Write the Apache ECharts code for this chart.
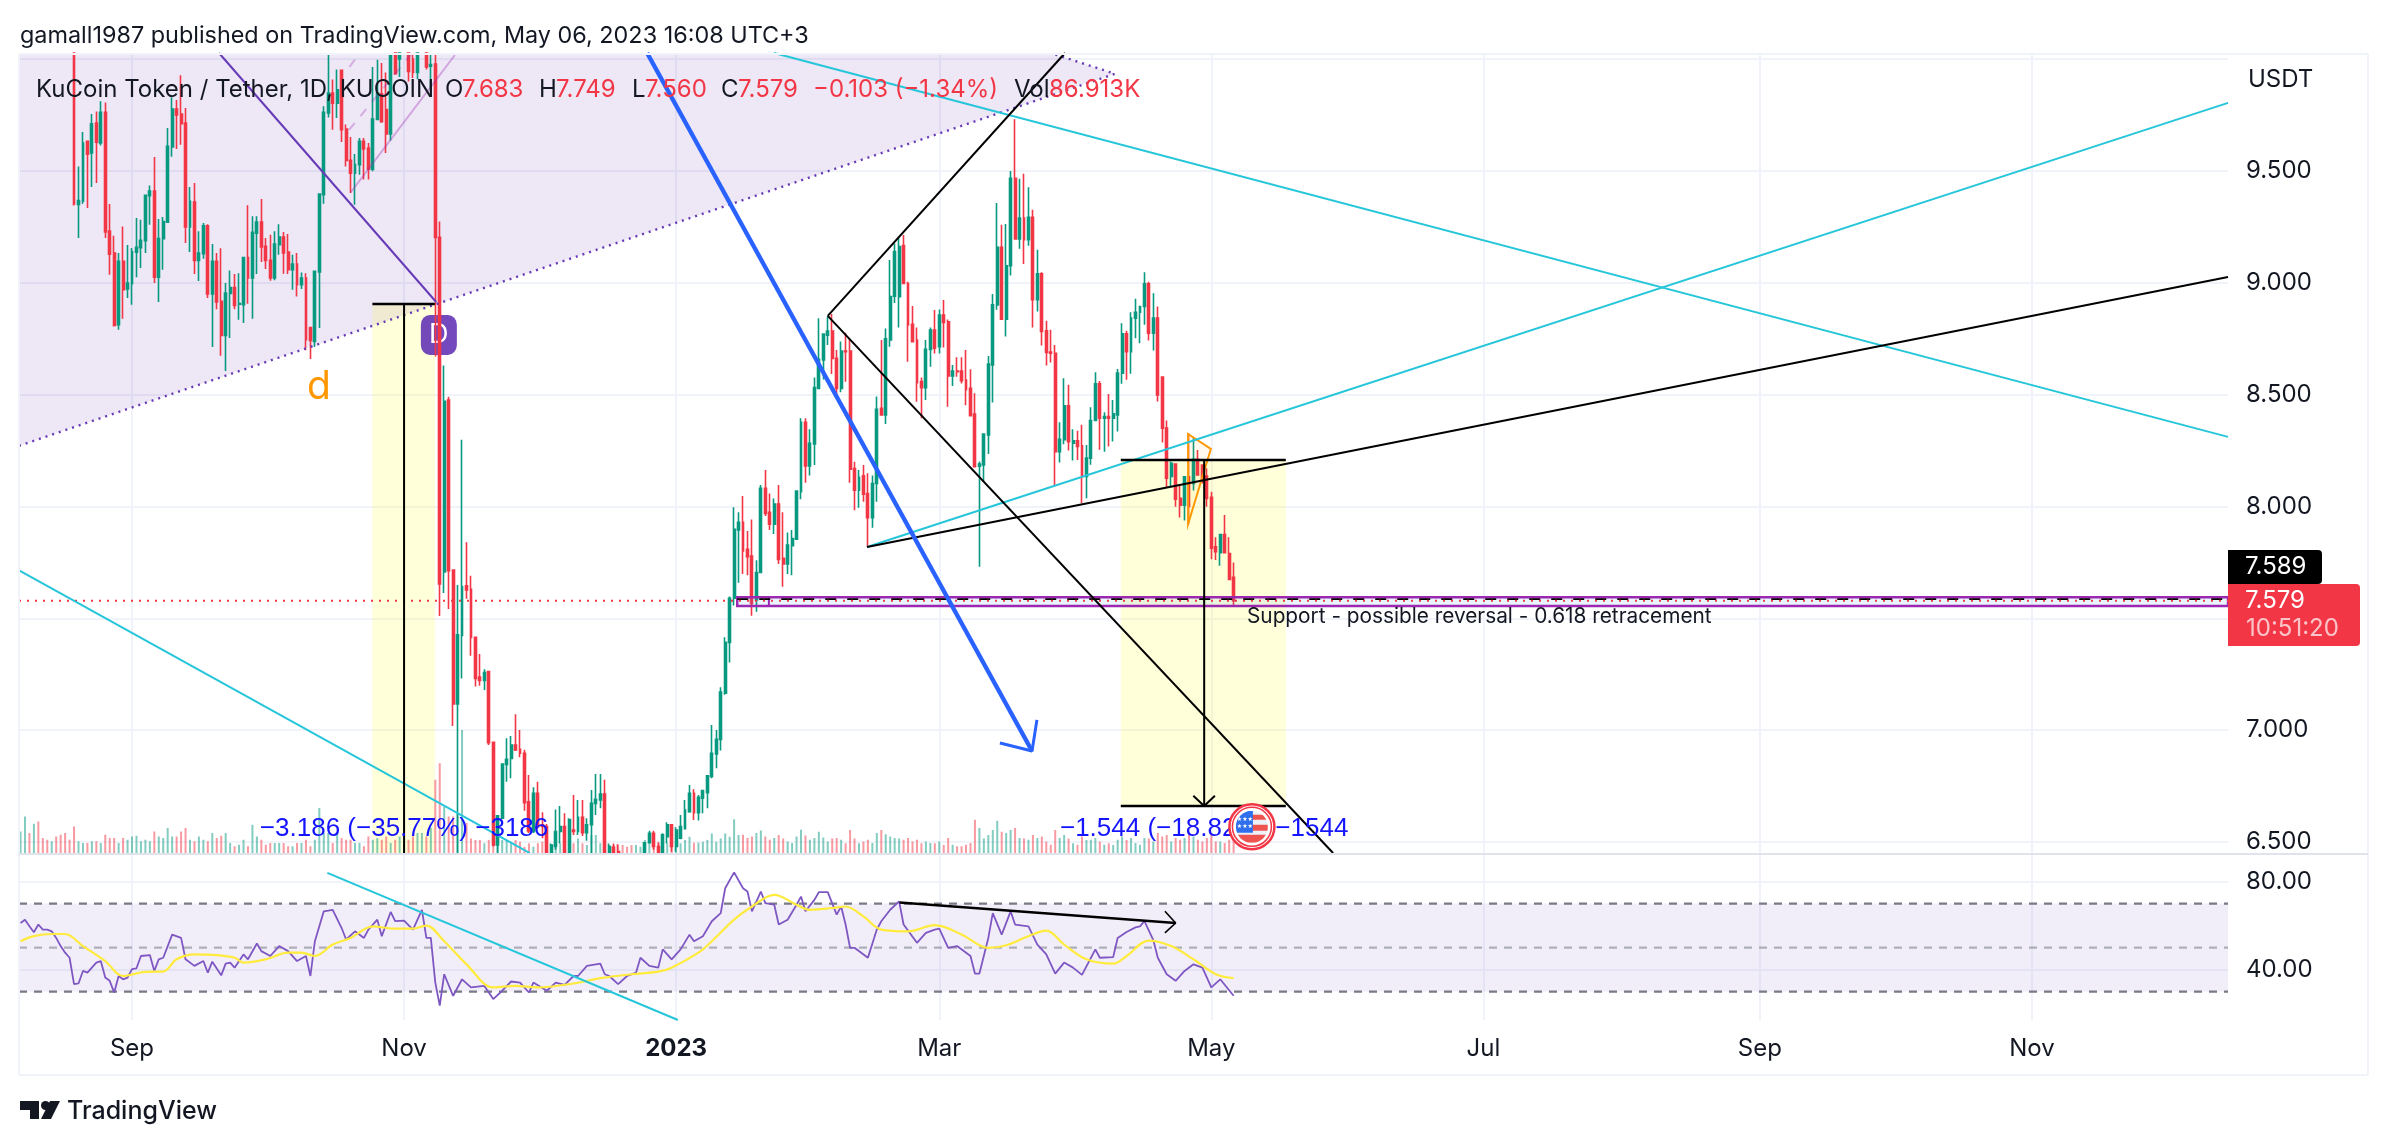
<!DOCTYPE html>
<html>
<head>
<meta charset="utf-8">
<title>KuCoin Token / Tether</title>
<script src="https://cdn.jsdelivr.net/npm/echarts@6/dist/echarts.min.js"></script>
<style>
html,body{margin:0;padding:0;background:#fff}
#main{width:2388px;height:1146px}
</style>
</head>
<body>
<div id="main"></div>
<script>
// day number 0 = 2022-08-07, candles above the pane before day 12 are not readable
const firstCandleDay = 12;
const opens = [
10.2,9.35,9.364,9.632,9.58,9.714,9.625,9.762,9.231,9.133,
8.812,9.096,8.972,8.996,9.137,9.157,9.188,9.389,9.41,9.025,
9.197,9.271,9.607,9.777,9.754,9.714,9.249,9.361,9.1,9.13,
9.255,8.95,9.096,8.917,8.765,8.952,8.979,8.904,8.902,9.113,
9.021,9.222,9.271,9.163,9.1,9.021,9.17,9.204,9.137,9.058,
9.084,8.991,9.021,8.8,8.738,9.048,9.394,9.759,9.848,9.803,
9.95,9.687,9.547,9.49,9.528,9.632,9.602,9.508,9.73,9.845,
9.774,9.665,10.07,10.0,10.15,10.1,10.0,9.94,10.1,10.1,
9.968,9.978,9.203,7.707,8.476,7.716,7.117,7.423,7.645,7.63,
7.415,7.237,7.222,7.262,6.946,6.487,6.606,6.847,6.874,6.934,
6.915,6.897,6.68,6.547,6.718,6.577,6.569,6.453,6.48,6.547,
6.569,6.453,6.554,6.547,6.611,6.542,6.577,6.673,6.688,6.715,
6.453,6.477,6.457,6.45,6.43,6.42,6.41,6.42,6.453,6.497,
6.539,6.48,6.453,6.524,6.577,6.48,6.517,6.56,6.636,6.718,
6.631,6.696,6.721,6.793,6.894,6.959,7.165,7.392,7.59,7.895,
7.929,7.808,7.778,7.582,7.705,8.081,7.974,7.921,8.011,7.768,
7.743,7.825,7.854,8.066,8.376,8.181,8.279,8.528,8.655,8.766,
8.784,8.662,8.528,8.695,8.695,8.17,8.073,8.137,8.058,7.95,
8.103,8.439,8.409,8.744,8.94,8.938,9.166,8.997,8.814,8.744,
8.558,8.531,8.702,8.789,8.714,8.856,8.826,8.583,8.605,8.605,
8.565,8.528,8.413,8.18,8.186,8.32,8.633,8.901,9.159,8.837,
9.076,9.467,9.196,9.289,9.192,9.293,8.924,9.04,8.785,8.69,
8.685,8.245,8.298,8.45,8.283,8.293,8.271,8.134,8.216,8.384,
8.548,8.394,8.402,8.394,8.409,8.596,8.772,8.692,8.842,8.868,
8.894,8.995,8.774,8.842,8.578,8.35,8.134,8.19,8.036,8.006,
8.133,8.103,8.211,8.185,8.136,8.041,7.82,7.793,7.875,7.79,
7.683];
const closes = [
9.352,9.368,9.625,9.575,9.711,9.628,9.762,9.227,9.128,8.809,
9.096,8.969,8.999,9.14,9.158,9.19,9.391,9.41,9.025,9.198,
9.274,9.61,9.777,9.75,9.711,9.249,9.364,9.1,9.133,9.255,
8.95,9.096,8.914,8.765,8.954,8.979,8.899,8.907,9.113,9.021,
9.225,9.271,9.16,9.1,9.021,9.173,9.204,9.133,9.058,9.084,
8.991,9.021,8.745,8.742,9.051,9.397,9.762,9.848,9.803,9.863,
9.684,9.547,9.49,9.528,9.632,9.598,9.508,9.732,9.848,9.72,
9.665,10.02,9.935,10.1,10.2,9.945,9.94,10.05,10.2,9.965,
9.975,9.203,7.654,8.47,7.713,7.117,7.426,7.642,7.627,7.414,
7.231,7.222,7.258,6.944,6.487,6.617,6.849,6.87,6.934,6.912,
6.897,6.676,6.55,6.718,6.569,6.57,6.453,6.487,6.547,6.569,
6.453,6.6,6.547,6.611,6.542,6.577,6.673,6.691,6.715,6.453,
6.48,6.453,6.452,6.43,6.42,6.41,6.42,6.44,6.497,6.539,
6.48,6.453,6.532,6.577,6.48,6.554,6.569,6.643,6.718,6.631,
6.7,6.73,6.796,6.897,6.959,7.17,7.393,7.59,7.898,7.929,
7.801,7.775,7.567,7.705,8.081,7.969,7.921,8.011,7.763,7.743,
7.828,7.857,8.069,8.376,8.181,8.282,8.532,8.658,8.771,8.784,
8.662,8.528,8.695,8.692,8.167,8.073,8.13,8.055,7.95,8.103,
8.434,8.409,8.749,8.938,9.14,9.162,8.997,8.811,8.737,8.553,
8.531,8.702,8.789,8.707,8.856,8.822,8.583,8.605,8.602,8.562,
8.523,8.406,8.178,8.19,8.324,8.637,8.901,9.159,8.837,9.076,
9.467,9.196,9.289,9.192,9.293,8.924,9.04,8.782,8.688,8.685,
8.245,8.3,8.45,8.29,8.293,8.268,8.134,8.216,8.384,8.548,
8.394,8.402,8.394,8.414,8.596,8.772,8.692,8.842,8.868,8.894,
8.995,8.774,8.842,8.499,8.35,8.126,8.193,8.033,8.006,8.133,
8.0,8.211,8.141,8.118,8.036,7.813,7.798,7.875,7.793,7.674,
7.579];
const lows = [
9.345,9.2,9.353,9.334,9.428,9.446,9.613,9.2,9.036,8.805,
8.79,8.839,8.932,8.902,9.025,9.066,9.133,9.259,8.999,8.914,
9.058,9.267,9.563,9.598,9.617,9.178,9.137,9.039,9.008,9.107,
8.932,8.713,8.882,8.674,8.605,8.753,8.882,8.835,8.82,8.906,
8.839,9.039,9.093,9.061,9.009,9.011,9.125,9.04,9.039,8.969,
8.939,8.972,8.698,8.659,8.713,8.798,9.353,9.739,9.684,9.736,
9.629,9.52,9.401,9.349,9.483,9.461,9.461,9.498,9.73,9.715,
9.58,9.636,9.93,9.92,10.1,9.9,9.915,9.91,10.05,9.953,
9.866,8.67,7.51,7.613,7.542,7.019,6.44,7.231,7.587,7.333,
7.195,7.199,7.18,6.934,6.48,6.44,6.606,6.77,6.785,6.907,
6.879,6.64,6.54,6.54,6.56,6.517,6.44,6.44,6.465,6.494,
6.44,6.44,6.532,6.532,6.527,6.506,6.44,6.621,6.651,6.44,
6.44,6.44,6.44,6.41,6.40,6.39,6.39,6.40,6.44,6.497,
6.465,6.44,6.44,6.494,6.457,6.457,6.512,6.558,6.631,6.599,
6.596,6.629,6.651,6.785,6.83,6.909,7.158,7.302,7.557,7.659,
7.698,7.693,7.512,7.529,7.704,7.957,7.895,7.877,7.743,7.641,
7.698,7.693,7.853,8.032,8.106,8.138,8.185,8.525,8.568,8.722,
8.592,8.498,8.51,8.558,8.106,7.983,7.994,8.021,7.82,7.905,
8.021,8.408,8.369,8.714,8.91,8.8,8.996,8.647,8.737,8.468,
8.394,8.476,8.625,8.684,8.684,8.711,8.446,8.538,8.58,8.55,
8.453,8.405,8.177,7.73,8.111,8.235,8.465,8.879,8.834,8.76,
9.032,9.195,9.152,9.084,9.165,8.8,8.871,8.719,8.63,8.643,
8.096,8.196,8.278,8.25,8.205,8.208,8.014,8.037,8.186,8.383,
8.253,8.245,8.268,8.29,8.335,8.548,8.566,8.593,8.752,8.73,
8.812,8.742,8.697,8.469,8.286,8.082,8.086,7.999,7.951,7.937,
7.92,8.071,8.14,8.103,7.999,7.764,7.761,7.735,7.792,7.671,
7.56];
const highs = [
10.3,9.52,9.674,9.632,9.754,9.766,9.811,9.806,9.352,9.21,
9.133,9.252,9.169,9.155,9.289,9.282,9.391,9.435,9.562,9.285,
9.294,9.692,9.829,9.817,9.927,9.781,9.428,9.446,9.23,9.267,
9.262,9.173,9.133,9.154,8.999,9.055,9.039,9.043,9.113,9.346,
9.297,9.297,9.374,9.2,9.215,9.23,9.262,9.227,9.218,9.125,
9.133,9.046,9.043,8.8,9.051,9.397,9.789,10.02,9.908,9.953,
9.95,9.707,9.651,9.575,9.647,9.647,9.625,9.964,9.997,9.982,
9.94,10.1,10.15,10.2,10.25,10.2,10.1,10.15,10.3,10.2,
10.1,10.04,9.274,8.63,8.49,7.716,7.649,8.298,7.84,7.69,
7.415,7.341,7.272,7.266,6.946,6.621,6.852,6.964,6.974,7.071,
7.001,6.912,6.8,6.745,6.77,6.633,6.581,6.494,6.646,6.661,
6.629,6.606,6.71,6.688,6.688,6.606,6.733,6.804,6.804,6.778,
6.494,6.494,6.49,6.449,6.44,6.44,6.44,6.449,6.497,6.55,
6.55,6.497,6.539,6.588,6.577,6.566,6.621,6.688,6.755,6.736,
6.71,6.733,6.796,7.023,7.001,7.192,7.415,7.597,7.997,7.974,
8.047,7.89,7.942,7.76,8.096,8.163,8.058,8.036,8.096,7.974,
7.884,7.895,8.069,8.394,8.394,8.345,8.577,8.841,8.774,8.848,
8.86,8.699,8.737,8.777,8.751,8.2,8.163,8.185,8.148,8.138,
8.491,8.744,8.796,9.102,9.175,9.204,9.214,9.005,8.896,8.8,
8.576,8.744,8.8,8.878,8.881,8.923,8.836,8.632,8.667,8.667,
8.699,8.613,8.506,8.201,8.324,8.673,8.95,9.356,9.259,9.263,
9.5,9.731,9.465,9.487,9.427,9.326,9.147,9.047,8.83,8.79,
8.722,8.377,8.573,8.544,8.345,8.338,8.365,8.275,8.444,8.6,
8.561,8.421,8.503,8.476,8.614,8.819,8.786,8.868,8.928,8.894,
9.047,9.005,8.953,8.894,8.578,8.384,8.201,8.193,8.096,8.136,
8.327,8.309,8.252,8.185,8.171,8.066,7.862,7.875,7.962,7.862,
7.749];
// volume in K, from day 0
const volumes = [
86,146,80,117,126,60,53,47,66,73,80,53,106,47,40,40,47,47,40,73,
60,60,40,60,53,66,69,47,53,47,86,66,60,100,66,66,86,100,53,47,
66,53,47,80,60,69,80,40,27,33,53,27,113,66,53,33,40,40,40,40,
27,27,40,40,53,27,53,180,80,80,40,80,60,53,53,40,40,27,66,53,
60,53,66,40,53,66,40,53,66,80,80,66,100,293,359,186,146,146,160,492,
120,58,52,52,39,52,65,52,52,52,45,52,45,25,39,25,39,45,39,25,
32,39,39,25,39,58,39,32,72,72,39,25,32,32,32,32,25,32,32,25,
52,45,39,45,19,39,25,25,39,52,65,41,41,45,52,78,45,58,78,65,
135,72,73,60,66,80,90,66,53,60,72,58,46,40,66,93,70,53,60,85,
62,46,58,60,53,39,92,58,39,46,53,40,80,92,75,66,60,58,53,60,
46,53,39,46,40,39,46,32,60,33,27,27,33,40,133,100,58,72,92,129,
85,80,92,100,60,58,53,72,60,66,46,33,92,60,72,58,39,33,66,52,
53,60,46,33,39,32,53,66,52,60,40,33,60,58,46,80,66,72,46,60,
53,60,85,66,53,46,60,72,46,46,40,53,87];
// direction of the volume bars whose candle sits above the pane
const earlyVolumeUp = [1,1,0,1,0,0,0,1,0,0,0,0];

const rsiDays = [0,1,2,3,4,5,6,7,8,9,10,11,12,13,14,15,16,17,18,19,20,21,22,23,24,25,26,27,29,30,31,32,34,36,37,39,41,42,43,45,46,47,48,50,51,53,54,56,58,60,62,64,65,66,68,69,70,72,73,75,77,78,80,81,83,84,86,88,90,91,92,93,94,95,97,99,101,104,106,108,110,112,114,115,118,120,122,124,125,127,130,131,132,134,136,138,139,141,143,144,146,148,150,151,153,155,157,158,160,162,163,164,166,167,169,170,172,174,175,176,178,179,181,183,184,185,186,187,190,192,193,195,197,198,201,203,205,206,208,210,213,214,215,217,218,220,222,223,226,228,230,232,234,236,238,241,242,245,246,248,250,251,252,254,255,257,259,261,263,265,267,269,272];
const rsiValues = [61.2,62.7,59.7,57,60.5,58.2,58.2,57.4,54.4,50.7,47.7,45.4,33.4,33.7,39.4,38.6,40.9,43.2,43.9,36.4,34.9,29.6,37.1,35.6,36.4,40.2,40.6,46.2,46.6,39.4,44.7,45.4,55.9,54.4,44.7,41.7,43.9,38.6,43.6,37.4,42.7,43.2,40.9,46.9,44.7,51.9,48.4,46.2,50.7,48.4,43.9,46.2,37.1,52.9,66.5,66.8,67.2,58.9,53.7,57.4,54.4,58.2,62.7,55.2,66.2,62,62.3,58.2,67.2,54.4,54.4,34.1,23.6,37.9,28.1,35.6,31.9,32.6,26.6,30.4,34.6,34.1,29.6,34.1,30.4,34.1,33.1,37.1,37.1,41.7,42.7,37.9,37.1,33.4,37.1,38.6,45.4,41.7,40.9,49.2,44.7,49.2,55.9,52.9,55.2,62,65.7,77,84.2,77,75.5,66.5,75.5,70.2,69.5,60.5,62.7,69.5,73.2,66.5,71.7,75.2,75.2,65,68.7,60.5,49.9,49.9,45.4,58.2,62,67.2,71,60.5,52.2,56.7,58.2,58.6,49.9,50.7,46.2,38.2,38.2,54.4,65.7,55.9,66.5,60.5,59.7,51.4,46.9,38.2,43.2,40.9,37.6,49.2,45.4,45.7,54.4,57.1,59.2,59.7,62,53.4,45.4,37.9,34.9,39.4,42.4,40.9,31.9,35.6,28.1];
const rsiAvgDays = [0,3,7,10,14,19,23,28,32,35,39,44,48,50,55,60,63,66,70,74,79,84,88,91,95,100,106,111,116,124,130,137,143,146,152,155,160,164,169,174,177,182,185,189,193,199,205,211,217,221,226,230,234,239,245,248,253,258,263,268,272];
const rsiAvgValues = [52.9,55.2,56.2,56.2,50.7,43.9,37.1,39,39.1,44.7,46.9,46.6,45.4,43.2,44.7,47.7,47.7,46.2,51.4,54.4,59.7,58.6,58.6,60,52.9,42.4,31.9,32.6,31.9,33.7,36.1,37.9,39.1,40.9,47.7,52.9,62.7,68.7,74,69.5,67.2,68,68.7,64.2,58.2,57.4,60.2,56,49.9,51.1,55.2,57.7,51.4,44.7,42.7,46.2,53.2,50.7,44.7,37.9,36.1];

// axis labels
const priceTicks = [6.5,7,7.5,8,8.5,9,9.5];
const priceGridTicks = [6.5,7,7.5,8,8.5,9,9.5,10];
const rsiTicks = [40,80];
const monthDays = [25,86,147,206,267,328,390,451];
const monthLabels = ['Sep','Nov','2023','Mar','May','Jul','Sep','Nov'];

// axis extents of the visible window
const dayMin = -0.34, dayMax = 494.96;
const priceMin = 6.451, priceMax = 10.027;
const rsiMin = 17.1, rsiMax = 92.1;

// drawings on the chart, [day, price]
const patternFill = [[dayMin,8.271],[245.4,9.934],[231,10.027],[dayMin,10.027]];
const patternEdge = [[dayMin,8.271],[245.4,9.934],[231,10.027]];
const patternLeg = [[44.5,10.027],[93.2,8.914]];
const patternInner = [[74,9.403],[97.4,10.018]];
const patternDash1 = [[73.66,9.683],[87.8,10.027]];
const patternDash2 = [[73.76,9.965],[76.1,10.027]];
const cyanFalling = [[168.95,10.027],[dayMax,8.311]];
const cyanRising = [[189.8,7.819],[dayMax,9.804]];
const blackRising = [[189.8,7.819],[dayMax,9.026]];
const cyanLeft = [[-0.12,7.712],[114.2,6.451]];
const channelUp = [[181,8.852],[234.2,10.027]];
const channelDown = [[181,8.852],[294.3,6.451]];
const blueArrow = [[140.5,10.027],[226.8,6.907]];
const blueArrowHead = [[219.6,6.943],[226.8,6.907],[227.9,7.046]];
const measureBoxA = [[78.9,8.905],[92.9,8.905],[92.9,priceMin],[78.9,priceMin]];
const measureLineA = [[86,8.905],[86,priceMin]];
const measureTopA = [[78.9,8.905],[92.9,8.905]];
const measureBoxB = [[246.7,8.208],[283.7,8.208],[283.7,6.661],[246.7,6.661]];
const measureLineB = [[265.4,8.208],[265.4,6.661]];
const measureTopB = [[246.7,8.208],[283.7,8.208]];
const measureBottomB = [[246.7,6.661],[283.7,6.661]];
const measureHeadB = [[262.96,6.707],[265.4,6.661],[267.8,6.707]];
const supportBox = [[160.7,7.594],[dayMax,7.594],[dayMax,7.555],[160.7,7.555]];
const supportDivider = [[167.8,7.594],[167.8,7.555]];
const supportLevel = [[160.7,7.586],[dayMax,7.586]];
const lastPriceLine = [[dayMin,7.579],[dayMax,7.579]];
const orangeWedge = [[261.8,8.324],[266.9,8.257],[261.8,7.922]];
const rsiCyan = [[68.8,84],[147.4,rsiMin]];
const rsiBlack = [[197.1,70.5],[259,61.2]];
const rsiBlackHead = [[256.6,66.5],[259,61.2],[256.6,56.7]];
const rsiBand = [[dayMin,70],[dayMax,70],[dayMax,30],[dayMin,30]];
const rsiUpper = [[dayMin,70],[dayMax,70]];
const rsiMiddle = [[dayMin,50],[dayMax,50]];
const rsiLower = [[dayMin,30],[dayMax,30]];
const flagSpot = [276.1,6.568];

const UP = '#089981', DOWN = '#F23645', INK = '#131722';
const FONT = 'Inter, sans-serif';

// candlestick series only drops boxes wholly outside the pane, so trim what pokes out
const inPane = v => Math.max(priceMin, Math.min(priceMax, v));
let candleData = opens.map((o, i) => [i + firstCandleDay, inPane(o), inPane(closes[i]), inPane(lows[i]), inPane(highs[i])])
    .filter((c, i) => lows[i] < priceMax && highs[i] > priceMin);
let volumeData = volumes.map((v, day) => {
    let up = day < firstCandleDay ? earlyVolumeUp[day] : closes[day - firstCandleDay] >= opens[day - firstCandleDay];
    return {value: [day, v], itemStyle: {color: up ? 'rgba(8,153,129,0.5)' : 'rgba(242,54,69,0.5)'}};
});

// one straight or broken drawing
function drawing(points, color, width, type, pane, z) {
    return {
        type: 'line',
        xAxisIndex: pane ? 1 : 0,
        yAxisIndex: pane ? 2 : 0,
        data: points,
        showSymbol: false,
        silent: true,
        clip: true,
        z: z || 6,
        lineStyle: {color: color, width: width, type: type || 'solid', cap: 'butt'}
    };
}
// filled shape in data coordinates
function area(points, fill, pane, z, stroke, strokeWidth) {
    return {
        type: 'custom',
        xAxisIndex: pane ? 1 : 0,
        yAxisIndex: pane ? 2 : 0,
        data: [points[0]],
        silent: true,
        clip: true,
        z: z || 1,
        renderItem: function (params, api) {
            return {
                type: 'polygon',
                shape: {points: points.map(p => api.coord(p))},
                style: {fill: fill, stroke: stroke || 'none', lineWidth: strokeWidth || 0}
            };
        }
    };
}
// text fixed to a data position
function note(day, price, text, size, color, align, family) {
    return {
        type: 'scatter',
        xAxisIndex: 0,
        yAxisIndex: 0,
        data: [[day, price]],
        symbolSize: 0,
        silent: true,
        z: 8,
        itemStyle: {opacity: 1},
        label: {
            show: true, position: 'inside', formatter: text, fontSize: size, color: color,
            align: align || 'center', verticalAlign: 'middle', fontFamily: family || FONT
        }
    };
}

let series = [
    area(patternFill, 'rgba(103,58,183,0.12)', 0, 1),
    area(measureBoxA, 'rgba(255,255,0,0.15)', 0, 1),
    area(measureBoxB, 'rgba(255,255,0,0.15)', 0, 1),
    {
        type: 'bar', xAxisIndex: 0, yAxisIndex: 1, data: volumeData,
        barWidth: 2, silent: true, z: 2
    },
    {
        type: 'scatter', xAxisIndex: 0, yAxisIndex: 0, data: [[93.8,8.767]], symbol: 'roundRect',
        symbolSize: [36,40], silent: true, z: 2,
        itemStyle: {color: 'rgba(103,58,183,0.92)', opacity: 1},
        label: {show: true, position: 'inside', formatter: 'D', color: '#fff', fontSize: 27, fontFamily: FONT}
    },
    {
        type: 'candlestick', xAxisIndex: 0, yAxisIndex: 0, data: candleData,
        encode: {x: 0, y: [1,2,3,4]}, barWidth: 2.4, silent: true, z: 3,
        itemStyle: {color: UP, color0: DOWN, borderColor: UP, borderColor0: DOWN, borderWidth: 1.6}
    },
    area(supportBox, 'rgba(33,150,243,0.1)', 0, 5, '#9C27B0', 2.4),
    drawing(supportDivider, '#9C27B0', 2),
    drawing(supportLevel, '#000', 1.8, [11,11]),
    drawing(lastPriceLine, DOWN, 2, [2,6]),
    drawing(patternEdge, '#673AB7', 2.4, [2,5]),
    drawing(patternLeg, '#673AB7', 2),
    drawing(patternInner, 'rgba(156,39,176,0.35)', 2),
    drawing(patternDash1, 'rgba(156,39,176,0.3)', 2, [9,9]),
    drawing(patternDash2, 'rgba(156,39,176,0.3)', 2, [9,9]),
    drawing(cyanFalling, '#26C6DA', 2),
    drawing(cyanRising, '#26C6DA', 2),
    drawing(blackRising, '#000', 2),
    drawing(cyanLeft, '#26C6DA', 2),
    drawing(channelUp, '#000', 2),
    drawing(channelDown, '#000', 2),
    drawing(blueArrow, '#2962FF', 4.4),
    drawing(blueArrowHead, '#2962FF', 3),
    drawing(measureLineA, '#000', 2),
    drawing(measureTopA, '#000', 2.4),
    drawing(measureLineB, '#000', 2),
    drawing(measureTopB, '#000', 2.4),
    drawing(measureBottomB, '#000', 2.4),
    drawing(measureHeadB, '#000', 2),
    area(orangeWedge, 'rgba(255,152,0,0.06)', 0, 6, '#FF9800', 2),
    note(86, 6.559, '\u22123.186 (\u221235.77%) \u22123186', 26, '#1414FF', 'center', '"Liberation Sans", sans-serif'),
    note(265.4, 6.559, '\u22121.544 (\u221218.82%) \u22121544', 26, '#1414FF', 'center', '"Liberation Sans", sans-serif'),
    note(275, 7.506, 'Support - possible reversal - 0.618 retracement', 20.8, INK, 'left'),
    note(66.9, 8.534, 'd', 39, '#FF9800'),
    // economic event flag
    {
        type: 'custom', xAxisIndex: 0, yAxisIndex: 0, data: [flagSpot], silent: true, z: 9,
        renderItem: function (params, api) {
            let c = api.coord(flagSpot), x = c[0], y = c[1], r = 16;
            return {
                type: 'group',
                children: [
                    {type: 'circle', shape: {cx: x, cy: y, r: 22.5}, style: {fill: '#fff', stroke: DOWN, lineWidth: 2.5}},
                    {type: 'circle', shape: {cx: x, cy: y, r: 19.5}, style: {fill: 'none', stroke: DOWN, lineWidth: 1.5}},
                    {
                        type: 'group',
                        clipPath: {type: 'circle', shape: {cx: x, cy: y, r: r}},
                        children: [
                            {type: 'rect', shape: {x: x - r, y: y - r, width: 2 * r, height: 2 * r}, style: {fill: '#EDF1F7'}},
                            {type: 'rect', shape: {x: x, y: y - 12, width: r, height: 5}, style: {fill: '#EF5350'}},
                            {type: 'rect', shape: {x: x, y: y - 2, width: r, height: 6}, style: {fill: '#EF5350'}},
                            {type: 'rect', shape: {x: x - r, y: y + 8, width: 2 * r, height: 8}, style: {fill: '#EF5350'}},
                            {type: 'rect', shape: {x: x - r, y: y - r, width: r + 1, height: r + 6}, style: {fill: '#2F6FED'}},
                            {type: 'text', style: {x: x - 7, y: y - 4, text: '\u2605\u2605\u2605\n\u2605\u2605\u2605', fill: '#fff', font: '6px "DejaVu Sans"', align: 'center', verticalAlign: 'middle', lineHeight: 7}}
                        ]
                    }
                ]
            };
        }
    },

    // RSI pane
    area(rsiBand, 'rgba(126,87,194,0.1)', 1, 1),
    drawing(rsiUpper, '#787B86', 2.4, [8,7], 1, 2),
    drawing(rsiMiddle, 'rgba(120,123,134,0.55)', 2.4, [8,7], 1, 2),
    drawing(rsiLower, '#787B86', 2.4, [8,7], 1, 2),
    drawing(rsiDays.map((d, i) => [d, rsiValues[i]]), '#7E57C2', 1.8, 'solid', 1, 3),
    Object.assign(drawing(rsiAvgDays.map((d, i) => [d, rsiAvgValues[i]]), '#FFEB3B', 2.2, 'solid', 1, 4), {smooth: 0.35}),
    drawing(rsiCyan, '#26C6DA', 2, 'solid', 1),
    drawing(rsiBlack, '#000', 2.4, 'solid', 1),
    drawing(rsiBlackHead, '#000', 1.6, 'solid', 1)
];

// legend row above the candles, [left, text, colour]
const legendRow = [
    [36, 'KuCoin Token / Tether, 1D, KUCOIN', INK],
    [445, 'O', INK], [462, '7.683', DOWN],
    [539, 'H', INK], [556, '7.749', DOWN],
    [632, 'L', INK], [645, '7.560', DOWN],
    [721, 'C', INK], [738, '7.579', DOWN],
    [813, '\u22120.103 (\u22121.34%)', DOWN],
    [1014, 'Vol', INK], [1049, '86.913K', DOWN]
];

function label(x, y, text, size, color, extra) {
    return {
        type: 'text', x: x, y: y, z: 100, silent: true,
        style: Object.assign({text: text, fill: color, font: (size) + 'px ' + FONT, verticalAlign: 'middle'}, extra || {})
    };
}
function frameLine(x1, y1, x2, y2, color, width) {
    return {type: 'line', z: 90, silent: true, shape: {x1: x1, y1: y1, x2: x2, y2: y2}, style: {stroke: color, lineWidth: width}};
}

let graphics = [
    frameLine(19, 54, 2368, 54, '#F0F3FA', 2),
    frameLine(19, 54, 19, 1075, '#F0F3FA', 2),
    frameLine(2368, 54, 2368, 1075, '#F0F3FA', 2),
    frameLine(19, 1075, 2368, 1075, '#F0F3FA', 2),
    frameLine(19, 854, 2368, 854, '#E0E3EB', 2),
    label(20, 36, 'gamall1987 published on TradingView.com, May 06, 2023 16:08 UTC+3', 23.4, INK),
    label(2248, 80, 'USDT', 24, INK),
    {type: 'rect', z: 95, silent: true, shape: {x: 2228, y: 550, width: 94, height: 34, r: [0,4,4,0]}, style: {fill: '#000'}},
    label(2245, 567, '7.589', 24, '#fff'),
    {type: 'rect', z: 96, silent: true, shape: {x: 2228, y: 584, width: 132, height: 62, r: [0,4,4,0]}, style: {fill: DOWN}},
    label(2245, 601, '7.579', 24, '#fff'),
    label(2246, 629, '10:51:20', 24, 'rgba(255,255,255,0.7)'),
    // logo
    {type: 'polygon', z: 95, silent: true, shape: {points: [[20,1101],[39,1101],[39,1119],[30,1119],[30,1110],[20,1110]]}, style: {fill: INK}},
    {type: 'circle', z: 95, silent: true, shape: {cx: 45.5, cy: 1105.5, r: 4.5}, style: {fill: INK}},
    {type: 'polygon', z: 95, silent: true, shape: {points: [[50,1101],[60,1101],[51,1119],[41,1119]]}, style: {fill: INK}},
    label(67, 1111, 'TradingView', 25, INK, {font: '500 25px ' + FONT})
].concat(legendRow.map(r => label(r[0], 90, r[1], 24, r[2])));

let option = {
    animation: false,
    backgroundColor: '#fff',
    textStyle: {fontFamily: FONT},
    grid: [
        {left: 19, right: 160, top: 53, height: 800},
        {left: 19, right: 160, top: 855, height: 165}
    ],
    xAxis: [
        {
            type: 'value', gridIndex: 0, min: dayMin, max: dayMax,
            axisLine: {show: false}, axisLabel: {show: false},
            axisTick: {show: false, customValues: monthDays},
            splitLine: {show: true, lineStyle: {color: '#F0F3FA', width: 2}}
        },
        {
            type: 'value', gridIndex: 1, min: dayMin, max: dayMax,
            axisLine: {show: false},
            axisTick: {show: false, customValues: monthDays},
            splitLine: {show: true, lineStyle: {color: '#F0F3FA', width: 2}},
            axisLabel: {
                show: true, customValues: monthDays, margin: 17, fontSize: 24, color: INK, fontFamily: FONT,
                formatter: function (value) {
                    let name = monthLabels[monthDays.indexOf(value)];
                    return name == '2023' ? '{b|' + name + '}' : name;
                },
                rich: {b: {fontWeight: 'bold', fontSize: 24, color: INK, fontFamily: FONT}}
            }
        }
    ],
    yAxis: [
        {
            type: 'value', gridIndex: 0, position: 'right', min: priceMin, max: priceMax,
            axisLine: {show: false},
            axisTick: {show: false, customValues: priceGridTicks},
            splitLine: {show: true, lineStyle: {color: '#F0F3FA', width: 2}},
            axisLabel: {
                customValues: priceTicks, margin: 18, fontSize: 24, color: INK, fontFamily: FONT,
                padding: [3,0,0,0],
                formatter: v => v.toFixed(3)
            }
        },
        {
            type: 'value', gridIndex: 0, position: 'right', min: 0, max: 3200, show: false,
            splitLine: {show: false}
        },
        {
            type: 'value', gridIndex: 1, position: 'right', min: rsiMin, max: rsiMax,
            axisLine: {show: false},
            axisTick: {show: false, customValues: rsiTicks},
            splitLine: {show: true, lineStyle: {color: '#F0F3FA', width: 2}},
            axisLabel: {
                customValues: rsiTicks, margin: 18, fontSize: 24, color: INK, fontFamily: FONT,
                formatter: v => v.toFixed(2)
            }
        }
    ],
    graphic: {elements: graphics},
    series: series
};

let myChart = echarts.init(document.getElementById('main'));
myChart.setOption(option);
</script>
</body>
</html>
